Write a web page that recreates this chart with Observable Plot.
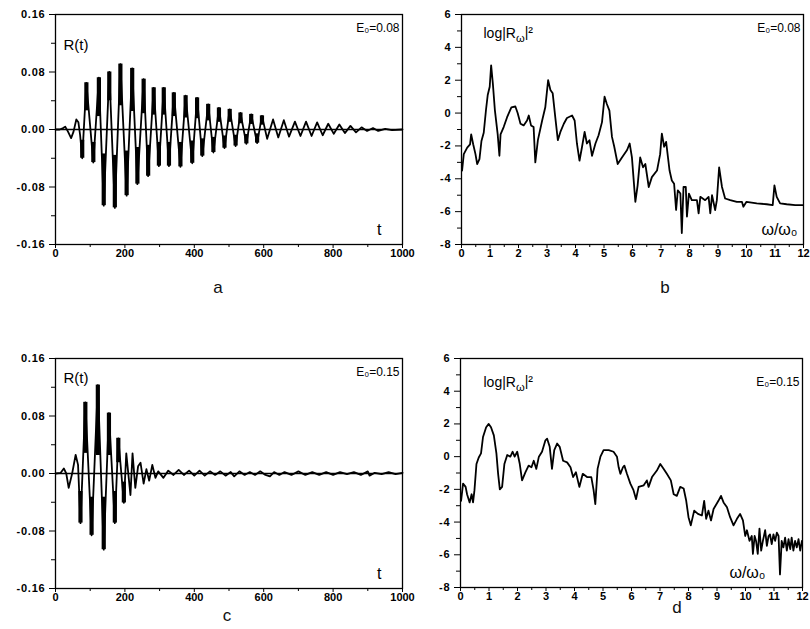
<!DOCTYPE html>
<html><head><meta charset="utf-8">
<script src="https://cdn.jsdelivr.net/npm/d3@7"></script>
<script src="https://cdn.jsdelivr.net/npm/@observablehq/plot@0.6"></script>
<style>
body{margin:0;background:#fff;}
#fig{position:relative;width:810px;height:629px;background:#fff;font-family:"Liberation Sans",Arial,sans-serif;overflow:hidden;}
.panel{position:absolute;}
.panel svg{background:none;}
.lab{position:absolute;font-size:17px;transform:translate(-50%,-50%);color:#111;}
#fig svg g[aria-label="y-axis tick label"] text{letter-spacing:0.8px;}
</style></head><body><div id="fig"></div>
<script>
// ---- tick values and labels ----
const tXMajor = [0,200,400,600,800,1000];
const tXMinor = [100,300,500,700,900];
const rYMajor = [-0.16,-0.08,0,0.08,0.16];
const rYLabels = ["-0.16","-0.08","0.00","0.08","0.16"];
const rYMinor = [-0.12,-0.04,0.04,0.12];
const wXMajor = [0,1,2,3,4,5,6,7,8,9,10,11,12];
const wXMinor = [0.5,1.5,2.5,3.5,4.5,5.5,6.5,7.5,8.5,9.5,10.5,11.5];
const sYMajor = [-8,-6,-4,-2,0,2,4,6];
const sYLabels = ["-8","-6","-4","-2","0","2","4","6"];
const sYMinor = [-7,-5,-3,-1,1,3,5];
const panelLetters = ["a","b","c","d"];
const fieldLabels = ["E\u2080=0.08","E\u2080=0.08","E\u2080=0.15","E\u2080=0.15"];

// ---- panel a: R(t), E0=0.08  [t, R, inner end of dense band] ----
const aPts = [
[0,0],[12,0],[22,0.002],[28,0.004],[36,-0.003],[45,-0.012],[52,-0.003],[60,0.014],[66,0.010],[71,-0.008],
[77,-0.040,-0.015],[89,0.065,0.026],[109,-0.046,-0.018],[125,0.072,0.018],[139,-0.106,-0.034],
[155,0.080,0.040],[171,-0.109,-0.036],[187,0.091,0.033],[205,-0.092,-0.030],[221,0.085,0.025],
[236,-0.076,-0.025],[254,0.070,0.022],[267,-0.065,-0.022],[283,0.058,0.020],[298,-0.051,-0.018],
[312,0.058,0.020],[327,-0.051,-0.018],[341,0.051,0.018],[360,-0.052,-0.018],[375,0.047,0.016],
[394,-0.047,-0.016],[408,0.044,0.015],[423,-0.037,-0.013],[440,0.035,0.012],[455,-0.032,-0.011],
[471,0.030,0.010],[487,-0.026,-0.009],[502,0.028,0.010],[519,-0.023,-0.008],[533,0.023,0.008],
[550,-0.020,-0.007],[564,0.021,0.007],[581,-0.019,-0.006],[595,0.019,0.006],
[610,-0.013],[627,0.014],[642,-0.011],[658,0.013],[673,-0.010],[690,0.011],[706,-0.009],[722,0.011],
[738,-0.009],[754,0.010],[770,-0.008],[786,0.008],[802,-0.006],[818,0.007],[834,-0.005],[850,0.005],
[866,-0.004],[882,0.003],[898,-0.002],[915,0.002],[930,-0.002],[950,0.001],[970,-0.001],[1000,0]
];

// ---- panel c: R(t), E0=0.15 ----
const cPts = [
[0,0],[15,0.001],[24,0.007],[31,0],[38,-0.020],[48,0],[58,0.026],[65,0.012],
[72,-0.069,-0.025],[86,0.099,0.028],[104,-0.086,-0.033],[122,0.123,0.025],[139,-0.106,-0.033],
[154,0.084,0.025],[171,-0.069,-0.025],[181,0.049,0.015],[197,-0.041,-0.012],
[204,0.028],[216,-0.030],[222,0.028],[230,-0.020],[238,0.010],[245,0.015],[254,-0.014],[262,0.006],
[270,-0.010],[279,0.012],[288,-0.006],[296,0.003],[311,-0.006],[325,0.004],[340,-0.002],[355,0.005],
[370,-0.002],[385,0.004],[400,-0.003],[415,0.004],[430,-0.003],[445,0.003],[460,-0.002],[475,0.003],
[490,-0.003],[505,0.002],[515,-0.004],[530,0.003],[545,-0.002],[560,0.002],[575,-0.002],[590,0.003],
[605,-0.002],[618,-0.004],[630,0.002],[645,-0.002],[660,0.002],[680,-0.002],[700,0.003],[720,-0.002],
[740,0.002],[760,-0.002],[780,0.002],[800,-0.002],[820,0.002],[840,-0.001],[860,0.002],[880,-0.002],
[900,0.003],[905,-0.003],[920,0.001],[940,-0.001],[960,0.002],[980,-0.001],[1000,0.001]
];

// ---- panel b: log|R_w|^2, E0=0.08 [w/w0, value] ----
const bPts = [
[0.02,-3.5],[0.08,-2.5],[0.2,-2.1],[0.3,-1.9],[0.34,-1.3],[0.41,-1.9],[0.49,-2.5],[0.55,-3.1],[0.63,-2.8],
[0.70,-1.7],[0.78,-1.2],[0.86,0.2],[0.92,1.1],[0.99,1.6],[1.04,2.9],[1.1,1.8],[1.17,0.2],[1.27,-1.3],
[1.33,-2.6],[1.37,-1.3],[1.48,-0.85],[1.6,-0.25],[1.75,0.35],[1.89,0.4],[1.97,0],[2.07,-0.65],[2.18,-0.75],
[2.3,-0.45],[2.36,-0.15],[2.44,-0.75],[2.53,-0.85],[2.59,-3.0],[2.68,-1.65],[2.83,-0.45],[2.94,0.35],
[3.04,2.0],[3.12,1.4],[3.2,1.2],[3.29,-0.25],[3.38,-1.65],[3.47,-1.15],[3.59,-0.65],[3.7,-0.3],[3.88,-0.15],
[3.97,-0.45],[4.05,-1.85],[4.14,-2.9],[4.23,-2.05],[4.32,-1.15],[4.4,-1.85],[4.49,-1.65],[4.58,-2.6],
[4.7,-1.85],[4.81,-1.35],[4.93,-0.55],[5.02,1.0],[5.1,0.55],[5.19,0.15],[5.28,-1.45],[5.36,-2.05],
[5.48,-3.1],[5.63,-2.7],[5.81,-2.25],[5.9,-1.85],[5.98,-2.7],[6.1,-5.4],[6.18,-4.4],[6.27,-2.7],
[6.37,-3.3],[6.45,-3.1],[6.57,-4.5],[6.68,-3.9],[6.86,-3.5],[6.97,-2.5],[7.03,-1.25],[7.11,-2.05],
[7.18,-1.75],[7.3,-3.5],[7.38,-4.1],[7.46,-4.3],[7.53,-5.9],[7.59,-4.7],[7.68,-4.9],[7.73,-7.3],
[7.79,-4.5],[7.87,-4.5],[7.91,-6.3],[7.98,-4.9],[8.08,-5.3],[8.26,-5.3],[8.32,-6.1],[8.38,-5.1],
[8.55,-5.3],[8.67,-5.1],[8.73,-6.1],[8.79,-5.0],[8.9,-5.9],[8.96,-5.3],[9.04,-3.3],[9.14,-4.5],
[9.25,-5.2],[9.43,-5.3],[9.66,-5.4],[9.84,-5.4],[9.89,-5.7],[10.0,-5.4],[10.36,-5.5],[10.71,-5.55],
[10.92,-5.6],[10.98,-4.4],[11.06,-5.1],[11.18,-5.5],[11.41,-5.55],[11.71,-5.6],[11.97,-5.6]
];

// ---- panel d: log|R_w|^2, E0=0.15 ----
const dPts = [
[0.02,-2.7],[0.09,-1.65],[0.18,-1.85],[0.23,-2.3],[0.32,-2.8],[0.39,-2.3],[0.44,-2.8],[0.49,-2.05],
[0.56,-0.45],[0.64,-0.05],[0.72,0.2],[0.79,1.2],[0.9,1.8],[0.99,2.0],[1.07,1.8],[1.17,1.3],[1.26,0.2],
[1.32,-1.05],[1.38,-2.0],[1.46,-1.85],[1.54,-0.45],[1.64,0.1],[1.75,0],[1.83,0.3],[1.9,0],[1.99,0.3],
[2.08,-0.45],[2.16,-1.45],[2.28,-0.95],[2.39,-0.55],[2.49,-0.65],[2.57,-0.25],[2.66,-0.75],[2.75,0],
[2.86,0.3],[2.98,1.0],[3.04,1.1],[3.13,0.6],[3.21,-0.75],[3.29,0.4],[3.39,0.8],[3.48,0.6],[3.6,-0.25],
[3.74,-0.35],[3.86,-0.65],[3.95,-1.25],[4.05,-0.95],[4.17,-1.85],[4.29,-1.05],[4.44,-1.25],[4.59,-1.25],
[4.67,-2.05],[4.73,-2.9],[4.81,-0.75],[4.91,0],[5.02,0.4],[5.2,0.4],[5.37,0.3],[5.49,0],[5.55,-0.65],
[5.61,-1.05],[5.7,-0.65],[5.75,-0.55],[5.84,-1.05],[5.96,-1.65],[6.07,-2.05],[6.16,-2.6],[6.25,-1.85],
[6.43,-1.75],[6.54,-1.45],[6.6,-1.85],[6.72,-1.25],[6.89,-0.85],[7.01,-0.45],[7.13,-0.75],[7.24,-1.05],
[7.38,-1.45],[7.48,-2.3],[7.59,-2.4],[7.71,-1.85],[7.83,-1.95],[7.92,-2.7],[8.0,-3.7],[8.08,-4.2],
[8.2,-3.3],[8.33,-3.5],[8.47,-3.6],[8.55,-2.7],[8.62,-3.8],[8.7,-3.3],[8.79,-3.9],[8.88,-3.2],[9.05,-2.7],
[9.14,-2.4],[9.23,-2.8],[9.35,-3.1],[9.46,-3.7],[9.58,-4.2],[9.7,-3.8],[9.81,-3.5],[9.91,-3.9],
[9.99,-4.85],[10.05,-4.5],[10.14,-5.15],[10.22,-4.85],[10.26,-5.95],[10.32,-4.85],[10.37,-5.15],
[10.43,-5.95],[10.49,-4.4],[10.55,-5.75],[10.61,-5.15],[10.69,-4.5],[10.75,-5.45],[10.81,-4.85],
[10.86,-4.75],[10.92,-5.35],[10.98,-4.75],[11.04,-5.15],[11.1,-4.65],[11.16,-4.85],[11.21,-7.2],
[11.27,-5.15],[11.33,-5.55],[11.39,-4.95],[11.45,-5.75],[11.51,-5.05],[11.57,-5.65],[11.62,-4.95],
[11.68,-5.75],[11.74,-5.15],[11.8,-5.55],[11.86,-5.05],[11.92,-5.75],[11.98,-5.15]
];

const fig = document.getElementById("fig");

function makePanel(o){
  const marks = [];
  if (o.zero) marks.push(Plot.ruleY([0], {stroke:"black", strokeWidth:1.3}));
  marks.push(Plot.line(o.pts, {x:d=>d[0], y:d=>d[1], stroke:"black", strokeWidth:o.sw, strokeLinejoin:"round"}));
  if (o.bars) marks.push(Plot.ruleX(o.pts.filter(d=>d.length>2), {x:d=>d[0], y1:d=>d[1], y2:d=>d[2], stroke:"black", strokeWidth:4.2}));
  marks.push(Plot.frame({stroke:"black", strokeWidth:1.3}));
  marks.push(Plot.axisX(o.xMinor, {tickSize:3, tickFormat:()=>"", label:null}));
  marks.push(Plot.axisX(o.xMajor, {tickSize:4, tickPadding:1, tickFormat:d=>String(d), label:null, fontSize:11, fontWeight:"bold"}));
  marks.push(Plot.axisY(o.yMinor, {tickSize:4, tickFormat:()=>"", label:null}));
  marks.push(Plot.axisY(o.yMajor, {tickSize:6, tickPadding:4, tickFormat:(d,i)=>o.yLabels[i], label:null, fontSize:11, fontWeight:"bold"}));
  marks.push(Plot.text([o.field], {frameAnchor:"top-right", dx:-3, dy:o.fieldDy, lineAnchor:"middle", fontSize:12}));
  marks.push(Plot.text([o.title], {frameAnchor:"top-left", dx:o.titleDx, dy:o.titleDy, lineAnchor:"middle", textAnchor:"start", fontSize:o.titleSize}));
  marks.push(Plot.text([o.xname], {frameAnchor:"bottom-right", dx:o.xnameDx, dy:-15, lineAnchor:"middle", textAnchor:"end", fontSize:16}));
  const p = Plot.plot({
    width:405, height:300,
    marginLeft:o.ml, marginRight:o.mr, marginTop:14, marginBottom:o.mb,
    x:{domain:o.xDomain}, y:{domain:o.yDomain},
    style:{fontFamily:"'Liberation Sans',Arial,sans-serif", color:"black", background:"none", overflow:"visible"},
    marks
  });
  d3.select(p).selectAll("text").filter(function(){return this.textContent==="log|R\u03c9|\u00b2";}).each(function(){
    const t = d3.select(this); t.text(null);
    t.append("tspan").text("log|R");
    t.append("tspan").attr("dy","0.35em").attr("font-size","0.8em").text("\u03c9");
    t.append("tspan").attr("dy","-0.35em").text("|\u00b2");
  });
  const div = document.createElement("div");
  div.className = "panel"; div.style.left = o.left+"px"; div.style.top = o.top+"px";
  div.appendChild(p); fig.appendChild(div);
  const lab = document.createElement("div");
  lab.className = "lab"; lab.textContent = o.letter;
  lab.style.left = o.lx+"px"; lab.style.top = o.ly+"px";
  fig.appendChild(lab);
}

makePanel({pts:aPts, zero:true, bars:true, sw:1.8, xDomain:[0,1000], yDomain:[-0.16,0.16],
  xMajor:tXMajor, xMinor:tXMinor, yMajor:rYMajor, yMinor:rYMinor, yLabels:rYLabels,
  ml:55, mr:3, mb:56, left:0, top:0, field:fieldLabels[0], fieldDy:14,
  title:"R(t)", titleDx:8, titleDy:31, titleSize:15, xname:"t", xnameDx:-21,
  letter:panelLetters[0], lx:218, ly:288});
makePanel({pts:bPts, zero:false, bars:false, sw:1.8, xDomain:[0,12], yDomain:[-8,6],
  xMajor:wXMajor, xMinor:wXMinor, yMajor:sYMajor, yMinor:sYMinor, yLabels:sYLabels,
  ml:58, mr:5, mb:56, left:403, top:0, field:fieldLabels[1], fieldDy:14,
  title:"log|R\u03c9|\u00b2", titleDx:22, titleDy:19, titleSize:14, xname:"\u03c9/\u03c9\u2080", xnameDx:-6,
  letter:panelLetters[1], lx:665, ly:288});
makePanel({pts:cPts, zero:true, bars:true, sw:1.8, xDomain:[0,1000], yDomain:[-0.16,0.16],
  xMajor:tXMajor, xMinor:tXMinor, yMajor:rYMajor, yMinor:rYMinor, yLabels:rYLabels,
  ml:55, mr:3, mb:56, left:0, top:344, field:fieldLabels[2], fieldDy:14,
  title:"R(t)", titleDx:8, titleDy:20, titleSize:15, xname:"t", xnameDx:-21,
  letter:panelLetters[2], lx:227, ly:616});
makePanel({pts:dPts, zero:false, bars:false, sw:1.8, xDomain:[0,12], yDomain:[-8,6],
  xMajor:wXMajor, xMinor:wXMinor, yMajor:sYMajor, yMinor:sYMinor, yLabels:sYLabels,
  ml:57, mr:6, mb:57, left:403, top:344, field:fieldLabels[3], fieldDy:24,
  title:"log|R\u03c9|\u00b2", titleDx:23, titleDy:24, titleSize:14, xname:"\u03c9/\u03c9\u2080", xnameDx:-37,
  letter:panelLetters[3], lx:677, ly:608});
</script>
</body></html>
